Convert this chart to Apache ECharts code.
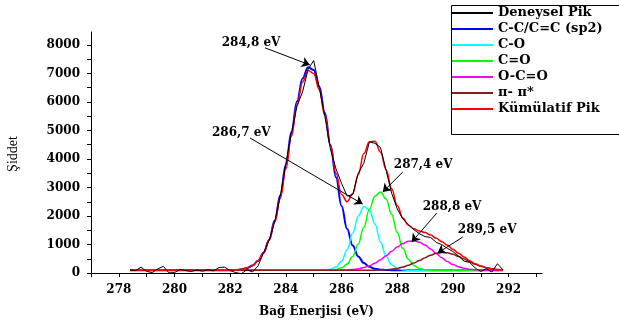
<!DOCTYPE html>
<html>
<head>
<meta charset="utf-8">
<script src="https://cdn.jsdelivr.net/npm/echarts@6/dist/echarts.min.js"></script>
<style>
html, body { margin: 0; padding: 0; background: #fff; }
#chart { width: 619px; height: 327px; }
</style>
</head>
<body>
<div id="chart"></div>
<script>
// binding energy grid (eV)
var energy = [278.4,278.6,278.8,279.0,279.2,279.4,279.6,279.8,280.0,280.2,
    280.4,280.6,280.8,281.0,281.2,281.4,281.6,281.8,282.0,282.2,
    282.4,282.6,282.8,283.0,283.2,283.4,283.6,283.8,284.0,284.2,
    284.4,284.6,284.8,285.0,285.2,285.4,285.6,285.8,286.0,286.2,
    286.4,286.6,286.8,287.0,287.2,287.4,287.6,287.8,288.0,288.2,
    288.4,288.6,288.8,289.0,289.2,289.4,289.6,289.8,290.0,290.2,
    290.4,290.6,290.8,291.0,291.2,291.4,291.6,291.8];

var deneysel = [110,90,210,60,20,150,240,10,20,130,
    90,60,110,70,120,80,200,210,90,20,
    -20,120,40,250,720,1150,1800,2700,3850,4900,
    5850,6350,7150,7450,6500,5500,4350,3650,3150,2700,
    2750,3500,3850,4600,4550,4400,3600,2800,2250,1900,
    1700,1520,1380,1280,1250,1080,1000,870,760,600,
    420,380,180,60,150,40,330,110];

var ccFit = [100,100,100,100,100,100,100,100,100,100,
    100,100,100,100,100,100,100,102,105,113,
    133,176,264,430,717,1173,1841,2730,3800,4948,
    6016,6824,7217,7116,6542,5610,4488,3356,2349,1547,
    967,584,352,222,155,123,109,103,100,100,
    100,100,100,100,100,100,100,100,100,100,
    100,100,100,100,100,100,100,100];

var coFit = [100,100,100,100,100,100,100,100,100,100,
    100,100,100,100,100,100,100,100,100,100,
    100,100,100,100,100,100,100,100,100,100,
    100,100,100,100,101,108,133,214,419,818,
    1401,2000,2335,2217,1715,1093,592,296,163,116,
    103,100,100,100,100,100,100,100,100,100,
    100,100,100,100,100,100,100,100];

var c2oFit = [100,100,100,100,100,100,100,100,100,100,
    100,100,100,100,100,100,100,100,100,100,
    100,100,100,100,100,100,100,100,100,100,
    100,100,100,100,100,102,108,129,186,319,
    583,1019,1608,2235,2707,2845,2594,2054,1420,869,
    487,268,163,120,106,101,100,100,100,100,
    100,100,100,100,100,100,100,100];

var ocoFit = [100,100,100,100,100,100,100,100,100,100,
    100,100,100,100,100,100,100,100,100,100,
    100,100,100,100,100,100,100,100,100,100,
    100,100,100,100,100,100,101,103,106,114,
    128,153,195,258,349,468,611,767,917,1040,
    1117,1133,1086,984,844,689,537,405,300,223,
    171,139,120,110,104,102,101,100];

var piFit = [100,100,100,100,100,100,100,100,100,100,
    100,100,100,100,100,100,100,100,100,100,
    100,100,100,100,100,100,100,100,100,100,
    100,100,100,100,100,100,100,100,100,100,
    100,100,101,102,104,110,120,137,167,211,
    273,353,445,542,629,694,724,714,665,587,
    494,398,311,240,187,150,127,114];

var kumulatif = [100,100,100,100,100,100,100,100,100,100,
    100,100,100,100,100,100,100,102,105,113,
    133,176,264,430,717,1160,1800,2620,3660,4800,
    5880,6700,7100,7000,6420,5520,4470,3500,2760,2500,
    2780,3456,4191,4600,4620,4239,3626,2957,2367,1936,
    1680,1554,1480,1420,1340,1220,1100,980,840,700,
    565,437,331,250,191,152,128,114];

var xLabels = [278, 280, 282, 284, 286, 288, 290, 292];
var xTicks = [277,278,279,280,281,282,283,284,285,286,287,288,289,290,291,292,293];
var yLabels = [0,1000,2000,3000,4000,5000,6000,7000,8000];
var yTicks = [0,500,1000,1500,2000,2500,3000,3500,4000,4500,5000,5500,6000,6500,7000,7500,8000];

// peak labels with arrows (data coords)
var peakNotes = [
    {text: '284,8 eV', at: [282.75, 8070], from: [283.25, 7895], to: [284.86, 7298]},
    {text: '286,7 eV', at: [282.40, 4912], from: [282.71, 4737], to: [286.76, 2421]},
    {text: '287,4 eV', at: [288.93, 3789], from: [288.20, 3544], to: [287.48, 2842]},
    {text: '288,8 eV', at: [289.97, 2316], from: [289.42, 2105], to: [288.52, 1088]},
    {text: '289,5 eV', at: [291.23, 1509], from: [290.35, 1263], to: [289.45, 702]}
];

var serif = 'DejaVu Serif';

function pairs(arr) {
    return energy.map(function (e, i) { return [e, arr[i]]; });
}

function fitLine(name, arr, color, width) {
    return {
        name: name,
        type: 'line',
        data: pairs(arr),
        symbol: 'none',
        smooth: 0.4,
        smoothMonotone: 'x',
        lineStyle: {color: color, width: width},
        itemStyle: {color: color},
        silent: true
    };
}

var myChart = echarts.init(document.getElementById('chart'));

var option = {
    backgroundColor: '#fff',
    animation: false,
    grid: {left: 91, right: 77, top: 32, bottom: 51, outerBoundsMode: 'none'},
    graphic: [{
        type: 'rect',
        left: 449,
        top: 3,
        shape: {width: 200, height: 129},
        style: {fill: 'none', stroke: '#000', lineWidth: 1},
        silent: true
    }],
    legend: {
        left: 452,
        top: 6,
        orient: 'vertical',
        padding: 0,
        icon: 'rect',
        itemWidth: 41,
        itemHeight: 2,
        itemGap: 2,
        data: ['Deneysel Pik', 'C-C/C=C (sp2)', 'C-O', 'C=O', 'O-C=O', 'π- π*', 'Kümülatif Pik'],
        textStyle: {fontFamily: serif, fontWeight: 'bold', fontSize: 13, lineHeight: 14, color: '#000'}
    },
    xAxis: {
        type: 'value',
        min: 277,
        max: 293.2,
        name: 'Bağ Enerjisi (eV)',
        nameLocation: 'middle',
        nameGap: 30,
        nameTextStyle: {fontFamily: serif, fontWeight: 'bold', fontSize: 12, color: '#000'},
        axisLine: {show: true, lineStyle: {color: '#000', width: 1}},
        axisTick: {show: true, customValues: xTicks, length: 4, lineStyle: {color: '#000'}},
        axisLabel: {
            customValues: xLabels,
            margin: 8,
            fontFamily: serif, fontWeight: 'bold', fontSize: 12, color: '#000',
            formatter: function (v) { return String(v); }
        },
        splitLine: {show: false}
    },
    yAxis: {
        type: 'value',
        min: -100,
        max: 8450,
        name: 'Şiddet',
        nameLocation: 'middle',
        nameGap: 71,
        nameRotate: 90,
        nameTextStyle: {fontFamily: 'Liberation Serif', fontSize: 14, color: '#000'},
        axisLine: {show: true, lineStyle: {color: '#000', width: 1}},
        axisTick: {show: true, customValues: yTicks, length: 4, lineStyle: {color: '#000'}},
        axisLabel: {
            customValues: yLabels,
            margin: 11,
            fontFamily: serif, fontWeight: 'bold', fontSize: 12, color: '#000',
            formatter: function (v) { return String(v); }
        },
        splitLine: {show: false}
    },
    series: [
        fitLine('C-C/C=C (sp2)', ccFit, '#0000ff', 2),
        fitLine('C-O', coFit, '#00ffff', 1.5),
        fitLine('C=O', c2oFit, '#00ff00', 1.5),
        fitLine('O-C=O', ocoFit, '#ff00ff', 1.5),
        fitLine('π- π*', piFit, '#8b1a1a', 1.5),
        fitLine('Kümülatif Pik', kumulatif, '#ff0000', 1.5),
        {
            name: 'Deneysel Pik',
            type: 'line',
            data: pairs(deneysel),
            symbol: 'none',
            lineStyle: {color: '#000', width: 1},
            itemStyle: {color: '#000'},
            silent: true,
            markLine: {
                silent: true,
                symbol: ['none', 'arrow'],
                symbolSize: 8,
                label: {show: false},
                lineStyle: {color: '#000', width: 1, type: 'solid'},
                data: peakNotes.map(function (n) {
                    return [{coord: n.from}, {coord: n.to}];
                })
            },
            markPoint: {
                silent: true,
                symbol: 'rect',
                symbolSize: 1,
                itemStyle: {color: 'rgba(0,0,0,0)'},
                label: {
                    show: true,
                    position: 'inside',
                    formatter: '{b}',
                    fontFamily: serif, fontWeight: 'bold', fontSize: 12, color: '#000'
                },
                data: peakNotes.map(function (n) {
                    return {name: n.text, coord: n.at};
                })
            }
        }
    ]
};

myChart.setOption(option);
</script>
</body>
</html>
